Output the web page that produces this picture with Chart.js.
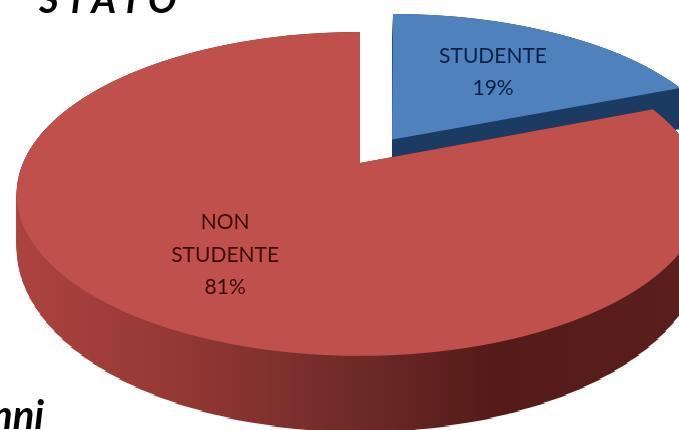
<!DOCTYPE html>
<html>

<head>
    <meta charset="utf-8">
    <title>Stato</title>
    <script src="https://cdn.jsdelivr.net/npm/chart.js"></script>
    <style>
        html, body { margin: 0; padding: 0; background: #fff; }
        #wrap { position: relative; width: 679px; height: 430px; overflow: hidden; }
        #myChart { position: absolute; left: 0; top: 0; filter: blur(0.6px); }
        .testo { position: absolute; font-family: Lato, sans-serif; font-weight: 700; font-style: italic; color: #000; line-height: 1; white-space: nowrap; }
        #titolo { left: 39px; top: -21px; font-size: 38px; letter-spacing: 7px; }
        #resto { left: -9px; top: 394px; font-size: 40px; }
    </style>
</head>

<body>
    <div id="wrap">
        <canvas id="myChart" width="679" height="430"></canvas>
        <div class="testo" id="titolo">STATO</div>
        <div class="testo" id="resto">nni</div>
    </div>
    <script>
        const categorie = ['STUDENTE', 'NON STUDENTE'];
        const valori = [19, 81];
        const colori = ['#4f81bd', '#bf504c'];
        const coloriTesto = ['#0c2045', '#3c0a0a'];
        const stacco = [117, 0];
        const raggioTesto = [0.59, 0.64];

        // prospettiva del disco: centro, semiassi e inclinazione
        const W = 679, H = 430;
        const cx = 360, cy = 163, assU = 337, assV = 156, tilt = 0.191, spessore = 50;

        function rigaV(y) {
            const a = cy - y;
            return a / (assV - a * tilt);
        }

        function nuovaTela() {
            const c = document.createElement('canvas');
            c.width = W;
            c.height = H;
            return c;
        }

        // quanto lo spicchio esce dal centro, in frazioni di raggio (come fa ArcElement)
        function uscita(el) {
            const fix = 1 - Math.sin(Math.min(Math.PI, el.circumference));
            return (el.options.offset || 0) / 4 * (1 + fix) / el.outerRadius;
        }

        // disegna lo spicchio riga per riga, ogni riga con la sua scala
        function disegnaFaccia(el) {
            const tela = nuovaTela();
            const g = tela.getContext('2d');
            const R = el.outerRadius;
            const mezzo = (el.startAngle + el.endAngle) / 2;
            const uo = Math.cos(mezzo) * uscita(el);
            for (let y = 0; y < H; y++) {
                const ym = y + 0.5;
                const v = rigaV(ym);
                const d = 1 + tilt * v;
                const sx = assU / (R * d);
                const sy = assV / (R * d * d);
                const fy = el.y - v * R;
                // lo spicchio staccato resta con il lato diritto
                const dx = assU * uo / 1.1 - assU * uo / d;
                g.save();
                g.beginPath();
                g.rect(0, y, W, 1);
                g.clip();
                g.setTransform(sx, 0, 0, sy, cx + dx - sx * el.x, ym - sy * fy);
                el.draw(g);
                g.restore();
            }
            return tela;
        }

        // il bordo: ogni riga della faccia viene allungata verso il basso
        function disegnaBordo(faccia, riempimento) {
            const tela = nuovaTela();
            const g = tela.getContext('2d');
            g.imageSmoothingEnabled = false;
            for (let y = 0; y < H; y++) {
                const d = 1 + tilt * rigaV(y + 0.5);
                g.drawImage(faccia, 0, y, W, 1, 0, y, W, spessore / (d * d) + 1);
            }
            g.globalCompositeOperation = 'source-in';
            g.fillStyle = riempimento;
            g.fillRect(0, 0, W, H);
            return tela;
        }

        function scriviEtichetta(ctx, el, i) {
            const mezzo = (el.startAngle + el.endAngle) / 2;
            const r = raggioTesto[i] + uscita(el);
            const u = Math.cos(mezzo) * r;
            const v = -Math.sin(mezzo) * r;
            const d = 1 + tilt * v;
            const x = cx + assU * u / d;
            const y = cy - assV * v / d;
            const righe = categorie[i].split(' ').concat(valori[i] + '%');
            ctx.save();
            ctx.font = '21px Lato, sans-serif';
            ctx.fillStyle = coloriTesto[i];
            ctx.textAlign = 'center';
            ctx.textBaseline = 'middle';
            righe.forEach(function (riga, n) {
                ctx.fillText(riga, x, y + (n - (righe.length - 1) / 2) * 32.5);
            });
            ctx.restore();
        }

        const pie3d = {
            id: 'pie3d',
            beforeDatasetDraw(chart, args) {
                const ctx = chart.ctx;
                const archi = args.meta.data;
                const bordi = [];
                const rosso = ctx.createLinearGradient(15, 0, 679, 0);
                rosso.addColorStop(0, '#ad4340');
                rosso.addColorStop(0.25, '#933835');
                rosso.addColorStop(0.5, '#702b29');
                rosso.addColorStop(0.72, '#551b18');
                rosso.addColorStop(1, '#5a1f1c');
                bordi[0] = '#1b3b63';
                bordi[1] = rosso;
                archi.forEach(function (el, i) {
                    const faccia = disegnaFaccia(el);
                    ctx.drawImage(disegnaBordo(faccia, bordi[i]), 0, 0);
                    ctx.drawImage(faccia, 0, 0);
                });
                archi.forEach(function (el, i) {
                    scriviEtichetta(ctx, el, i);
                });
                return false;
            }
        };

        new Chart(document.getElementById('myChart').getContext('2d'), {
            type: 'pie',
            data: {
                labels: categorie,
                datasets: [{
                    data: valori,
                    backgroundColor: colori,
                    borderWidth: 0,
                    offset: stacco
                }]
            },
            options: {
                responsive: false,
                animation: false,
                plugins: {
                    legend: { display: false },
                    tooltip: { enabled: false }
                }
            },
            plugins: [pie3d]
        });
    </script>
</body>

</html>
